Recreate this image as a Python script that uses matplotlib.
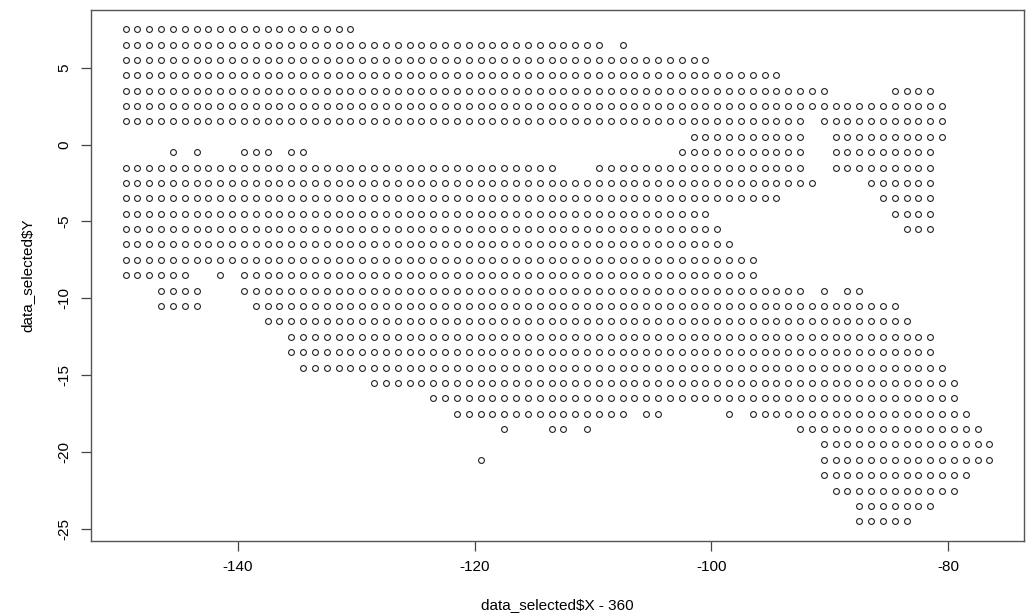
import numpy as np
import matplotlib
matplotlib.use('Agg')
import matplotlib.pyplot as plt

plt.rcParams['font.family'] = ['Liberation Sans', 'DejaVu Sans']

# grid rows (Y) and the runs of X values (X - 360) present in each row
row_y = [7.5, 6.5, 5.5, 4.5, 3.5, 2.5, 1.5, 0.5, -0.5, -1.5, -2.5, -3.5, -4.5,
         -5.5, -6.5, -7.5, -8.5, -9.5, -10.5, -11.5, -12.5, -13.5, -14.5,
         -15.5, -16.5, -17.5, -18.5, -19.5, -20.5, -21.5, -22.5, -23.5, -24.5]
row_runs = [
    [(-149.5, -130.5)],
    [(-149.5, -109.5), (-107.5, -107.5)],
    [(-149.5, -100.5)],
    [(-149.5, -94.5)],
    [(-149.5, -90.5), (-84.5, -81.5)],
    [(-149.5, -80.5)],
    [(-149.5, -92.5), (-90.5, -80.5)],
    [(-101.5, -92.5), (-89.5, -80.5)],
    [(-145.5, -145.5), (-143.5, -143.5), (-139.5, -137.5), (-135.5, -134.5),
     (-102.5, -92.5), (-89.5, -81.5)],
    [(-149.5, -113.5), (-109.5, -92.5), (-89.5, -81.5)],
    [(-149.5, -91.5), (-86.5, -81.5)],
    [(-149.5, -94.5), (-85.5, -81.5)],
    [(-149.5, -100.5), (-84.5, -81.5)],
    [(-149.5, -99.5), (-83.5, -81.5)],
    [(-149.5, -98.5)],
    [(-149.5, -96.5)],
    [(-149.5, -144.5), (-141.5, -141.5), (-139.5, -96.5)],
    [(-146.5, -143.5), (-139.5, -92.5), (-90.5, -90.5), (-88.5, -87.5)],
    [(-146.5, -143.5), (-138.5, -84.5)],
    [(-137.5, -83.5)],
    [(-135.5, -81.5)],
    [(-135.5, -81.5)],
    [(-134.5, -80.5)],
    [(-128.5, -79.5)],
    [(-123.5, -79.5)],
    [(-121.5, -107.5), (-105.5, -104.5), (-98.5, -98.5), (-96.5, -78.5)],
    [(-117.5, -117.5), (-113.5, -112.5), (-110.5, -110.5), (-92.5, -77.5)],
    [(-90.5, -76.5)],
    [(-119.5, -119.5), (-90.5, -76.5)],
    [(-90.5, -78.5)],
    [(-89.5, -79.5)],
    [(-87.5, -81.5)],
    [(-87.5, -83.5)],
]
x_ticks = [-140, -120, -100, -80]
y_ticks = [-25, -20, -15, -10, -5, 0, 5]

xs, ys = [], []
for y, runs in zip(row_y, row_runs):
    for a, b in runs:
        pts = np.arange(a, b + 0.5, 1.0)
        xs.extend(pts)
        ys.extend([y] * len(pts))

fig = plt.figure(figsize=(10.3, 6.13), dpi=100)
ax = fig.add_axes([91 / 1030, 1 - 541 / 613, (1024 - 91) / 1030, (541 - 9.5) / 613])
ax.plot(xs, ys, 'o', mfc='none', mec='#222222', ms=4.2, mew=0.8, ls='none')

ax.set_xlim(-152.42, -73.58)
ax.set_ylim(-25.78, 8.78)
ax.set_xticks(x_ticks)
ax.set_yticks(y_ticks)
ax.set_xticklabels([str(t) for t in x_ticks])
ax.set_yticklabels([str(t) for t in y_ticks], rotation=90, va='center')
ax.tick_params(axis='both', length=7, width=0.9, color='#444444', labelsize=11, pad=7)
for s in ax.spines.values():
    s.set_color('#555555')
    s.set_linewidth(1.0)

ax.set_xlabel(r'data_selected\$X - 360', fontsize=11, labelpad=17)
ax.set_ylabel(r'data_selected\$Y', fontsize=11, labelpad=17)

fig.savefig('out.png', dpi=100)
